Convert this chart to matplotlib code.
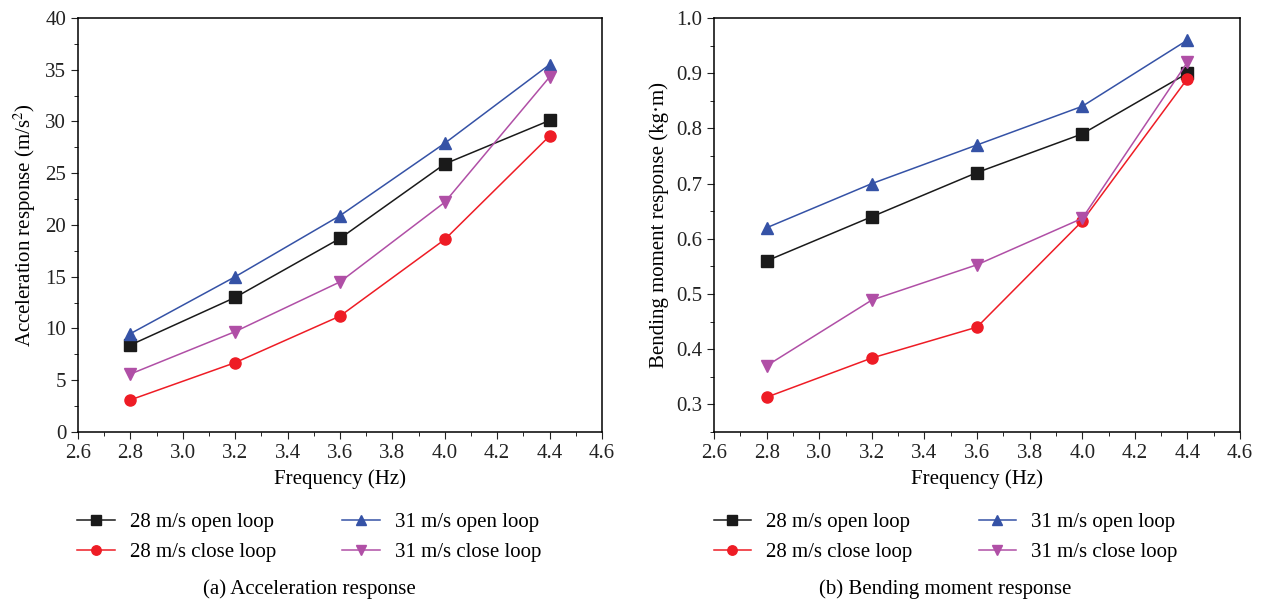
# Frequency response: acceleration and bending moment, open vs close loop
import matplotlib
matplotlib.use("Agg")
import matplotlib.pyplot as plt
from matplotlib.ticker import MultipleLocator

plt.rcParams["font.family"] = ["Liberation Serif", "DejaVu Serif"]
plt.rcParams["mathtext.fontset"] = "stix"

# data
freq = [2.8, 3.2, 3.6, 4.0, 4.4]
labels = ["28 m/s open loop", "28 m/s close loop", "31 m/s open loop", "31 m/s close loop"]

acc_28_open = [8.4, 13.0, 18.7, 25.9, 30.1]
acc_28_close = [3.1, 6.7, 11.2, 18.6, 28.6]
acc_31_open = [9.5, 15.0, 20.9, 27.9, 35.5]
acc_31_close = [5.6, 9.7, 14.5, 22.2, 34.3]

bm_28_open = [0.56, 0.64, 0.72, 0.79, 0.90]
bm_28_close = [0.313, 0.384, 0.44, 0.632, 0.89]
bm_31_open = [0.62, 0.70, 0.77, 0.84, 0.96]
bm_31_close = [0.37, 0.489, 0.553, 0.637, 0.92]

colors = ["#1a1a1a", "#ee1c25", "#3552a6", "#b04fa6"]
markers = ["s", "o", "^", "v"]

fig = plt.figure(figsize=(12.62, 6.04), dpi=100)
ax1 = fig.add_axes([0.0618, 0.2848, 0.4152, 0.6854])
ax2 = fig.add_axes([0.5658, 0.2848, 0.4168, 0.6854])


def draw(ax, series, ylim, ymajor, yminor, ylabel, caption, xmid):
    for ys, c, m, lab in zip(series, colors, markers, labels):
        ax.plot(freq, ys, color=c, marker=m, markersize=8, linewidth=1.1, label=lab)
    ax.set_xlim(2.6, 4.6)
    ax.set_ylim(*ylim)
    ax.xaxis.set_major_locator(MultipleLocator(0.2))
    ax.xaxis.set_minor_locator(MultipleLocator(0.1))
    ax.yaxis.set_major_locator(MultipleLocator(ymajor))
    ax.yaxis.set_minor_locator(MultipleLocator(yminor))
    ax.tick_params(which="major", direction="out", length=5, labelsize=15, colors="#222222")
    ax.tick_params(which="minor", direction="out", length=3)
    ax.tick_params(top=False, right=False)
    ax.xaxis.set_major_formatter(plt.FormatStrFormatter("%.1f"))
    for s in ax.spines.values():
        s.set_linewidth(1.1)
    ax.set_xlabel("Frequency (Hz)", fontsize=15, labelpad=5)
    ax.set_ylabel(ylabel, fontsize=15, labelpad=5)
    h, l = ax.get_legend_handles_labels()
    fig.legend(h, l, loc="center", bbox_to_anchor=(xmid, 0.110), ncol=2, frameon=False,
               fontsize=15, columnspacing=3.2, handlelength=1.8, handletextpad=0.7,
               labelspacing=0.5, markerscale=0.85)
    fig.text(xmid, 0.024, caption, ha="center", va="center", fontsize=15)


draw(ax1, [acc_28_open, acc_28_close, acc_31_open, acc_31_close], (0, 40), 5, 2.5,
     "Acceleration response (m/s$^2$)", "(a) Acceleration response", 0.245)
ax1.yaxis.set_major_formatter(plt.FormatStrFormatter("%d"))
draw(ax2, [bm_28_open, bm_28_close, bm_31_open, bm_31_close], (0.25, 1.0), 0.1, 0.05,
     "Bending moment response (kg·m)", "(b) Bending moment response", 0.749)
ax2.yaxis.set_major_formatter(plt.FormatStrFormatter("%.1f"))

fig.savefig("out.png", dpi=100)
